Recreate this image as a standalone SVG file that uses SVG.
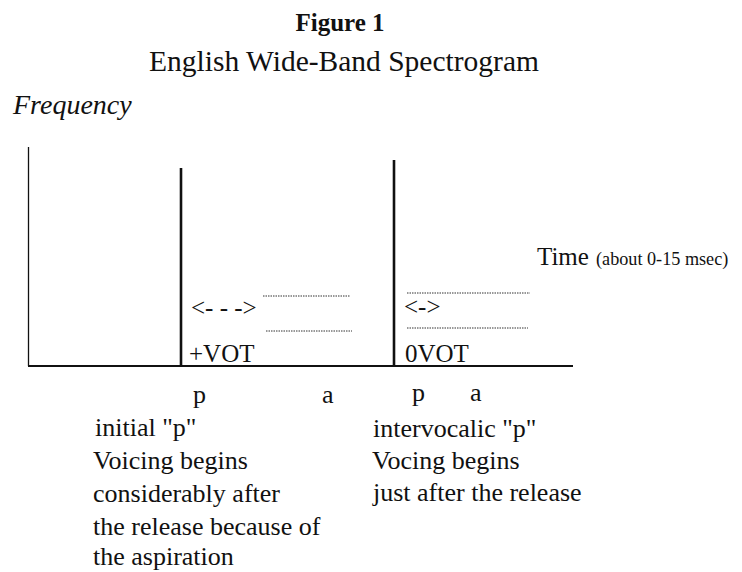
<svg xmlns="http://www.w3.org/2000/svg" width="742" height="572" viewBox="0 0 742 572">
<style>
text{font-family:"Liberation Serif","Times New Roman",serif;fill:#111}
.title{font-size:25px;font-weight:bold}
.sub{font-size:29.5px}
.freq{font-size:28px;font-style:italic}
.body{font-size:26px}
.lbl{font-size:25px}
.axis{stroke:#111;fill:none}
.dot{stroke:#333;stroke-width:1;stroke-dasharray:1.5 1;fill:none}
</style>
<rect width="742" height="572" fill="#fff"/>
<g id="titles">
<text class="title" x="340" y="31" text-anchor="middle">Figure 1</text>
<text class="sub" x="344" y="71" text-anchor="middle">English Wide-Band Spectrogram</text>
<text class="freq" x="13" y="114">Frequency</text>
</g>
<g id="axes">
<line class="axis" x1="28.5" y1="147" x2="28.5" y2="366" stroke-width="1.3"/>
<line class="axis" x1="28" y1="366" x2="573" y2="366" stroke-width="1.8"/>
<line class="axis" x1="181" y1="168" x2="181" y2="366" stroke-width="2.6"/>
<line class="axis" x1="394" y1="160" x2="394" y2="366" stroke-width="2.6"/>
</g>
<g id="connectors">
<line class="dot" x1="263" y1="296" x2="350" y2="296"/>
<line class="dot" x1="266" y1="331" x2="352" y2="331"/>
<line class="dot" x1="407" y1="293" x2="530" y2="293"/>
<line class="dot" x1="407" y1="328" x2="528" y2="328"/>
</g>
<g id="time-label">
<text x="537" y="265" font-size="25">Time</text>
<text x="596" y="265" font-size="18.2">(about 0-15 msec)</text>
</g>
<g id="plus-vot">
<text class="lbl" x="191" y="316">&lt;- - -&gt;</text>
<text class="lbl" x="189" y="362">+VOT</text>
<text class="body" x="193" y="403">p</text>
<text class="body" x="322" y="403">a</text>
<text class="body" x="95" y="436">initial "p"</text>
<text class="body" x="93" y="469">Voicing begins</text>
<text class="body" x="93" y="502">considerably after</text>
<text class="body" x="93" y="535">the release because of</text>
<text class="body" x="93" y="565">the aspiration</text>
</g>
<g id="zero-vot">
<text class="lbl" x="404" y="315">&lt;-&gt;</text>
<text class="lbl" x="405" y="362">0VOT</text>
<text class="body" x="412" y="401">p</text>
<text class="body" x="470" y="401">a</text>
<text class="body" x="373" y="437">intervocalic "p"</text>
<text class="body" x="372" y="469">Vocing begins</text>
<text class="body" x="373" y="501">just after the release</text>
</g>
</svg>
